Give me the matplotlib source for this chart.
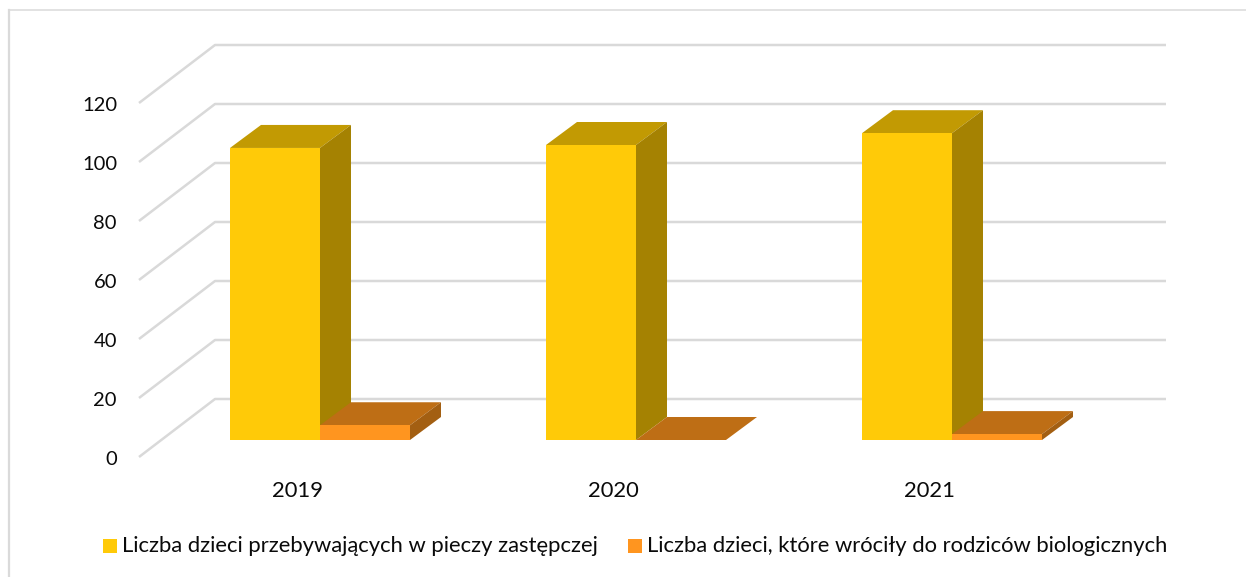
import matplotlib
matplotlib.use('Agg')
import matplotlib.pyplot as plt
from matplotlib.patches import Polygon, Rectangle

plt.rcParams['font.family'] = ['Lato', 'DejaVu Sans']

# data
years = ['2019', '2020', '2021']
in_care = [99, 100, 104]
returned = [5, 0, 2]
yticks = [0, 20, 40, 60, 80, 100, 120]
legend_labels = ['Liczba dzieci przebywających w pieczy zastępczej',
                 'Liczba dzieci, które wróciły do rodziców biologicznych']

W, H = 1246, 577
PX = 2.95        # pixels per unit of value
Y0 = 457         # pixel row of value 0 on the front edge

# 3d look: one bar depth and the shift of the side wall
bar_w = 90
bar_dx, bar_dy = 31, 23 / PX
wall_dx, wall_dy = 76, 58 / PX
base = 17 / PX   # bars stand this far up the floor
first_bar = 230
step = 316

yellow = ('#FFCA08', '#C29A03', '#A58202')
orange = ('#FF951F', '#BE6E15', '#A35F12')
txt = '#0A0A0A'

fig = plt.figure(figsize=(W / 100, H / 100), dpi=100)
ax = fig.add_axes([0, 0, 1, 1])
ax.set_xlim(0, W)
ax.set_ylim(-(H - Y0) / PX, Y0 / PX)
ax.axis('off')

# chart frame: only top and left show in the original, top runs off the image
top = (Y0 - 9.5) / PX
ax.plot([9, W], [top, top], color='#DDDDDD', lw=1.2)
ax.plot([9, 9], [-(H - Y0) / PX, top], color='#DADADA', lw=1.6)

# gridlines on floor edge and back wall
for v in yticks:
    back = v + wall_dy
    ax.plot([139, 139 + wall_dx, 1166], [v, back, back], color='#D9D9D9',
            lw=1.8, solid_capstyle='butt', zorder=1)
    ax.text(117, v - 2.5 / PX, str(v), ha='right', va='center', fontsize=14.5, color=txt)


def box(x, val, cols):
    y0, y1 = base, base + val
    # top, side, front
    ax.add_patch(Polygon([(x, y1), (x + bar_w, y1), (x + bar_w + bar_dx, y1 + bar_dy),
                          (x + bar_dx, y1 + bar_dy)], fc=cols[1], ec='none', zorder=3))
    ax.add_patch(Polygon([(x + bar_w, y0), (x + bar_w + bar_dx, y0 + bar_dy),
                          (x + bar_w + bar_dx, y1 + bar_dy), (x + bar_w, y1)],
                         fc=cols[2], ec='none', zorder=3))
    ax.add_patch(Rectangle((x, y0), bar_w, val, fc=cols[0], ec='none', zorder=3))


for i, year in enumerate(years):
    x = first_bar + i * step
    box(x, in_care[i], yellow)
    box(x + bar_w, returned[i], orange)
    ax.text(x + bar_w * 0.75, -(491 - Y0) / PX, year, ha='center', va='center',
            fontsize=15.8, color=txt)

# legend by hand, the spacing comes from the original
ly = -(546 - Y0) / PX
ax.add_patch(Rectangle((103, ly - 7 / PX), 14, 14 / PX, fc=yellow[0], ec='none'))
ax.text(122, ly, legend_labels[0], ha='left', va='center', fontsize=15.8, color=txt)
ax.add_patch(Rectangle((628, ly - 7 / PX), 14, 14 / PX, fc=orange[0], ec='none'))
ax.text(647, ly, legend_labels[1], ha='left', va='center', fontsize=15.8, color=txt)

fig.savefig('out.png', dpi=100)
